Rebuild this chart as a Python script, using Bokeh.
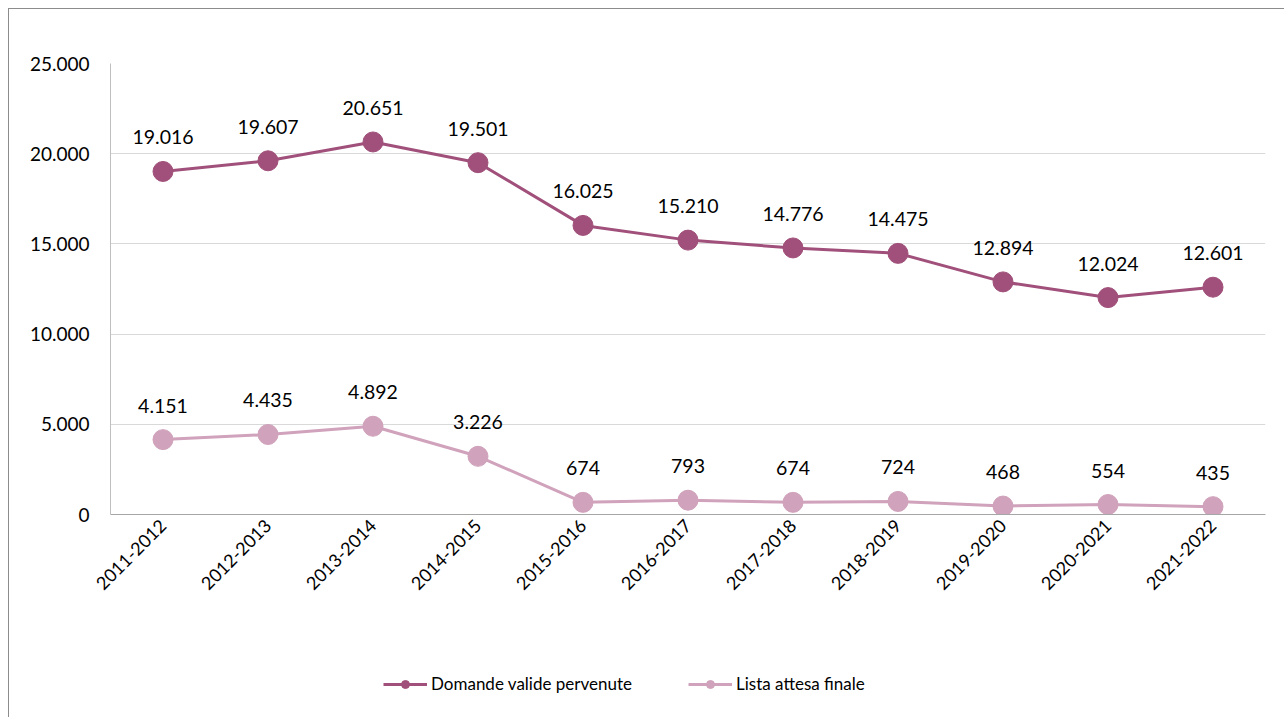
import math
from bokeh.plotting import figure
from bokeh.layouts import column
from bokeh.models import (ColumnDataSource, Range1d, FactorRange, LabelSet,
                          Legend, LegendItem)
from bokeh.core.properties import value
from bokeh.embed import file_html
from bokeh.resources import INLINE

years = ["2011-2012", "2012-2013", "2013-2014", "2014-2015", "2015-2016",
         "2016-2017", "2017-2018", "2018-2019", "2019-2020", "2020-2021",
         "2021-2022"]
domande = [19016, 19607, 20651, 19501, 16025, 15210, 14776, 14475, 12894, 12024, 12601]
lista = [4151, 4435, 4892, 3226, 674, 793, 674, 724, 468, 554, 435]
y_ticks = [0, 5000, 10000, 15000, 20000, 25000]
series_names = ["Domande valide pervenute", "Lista attesa finale"]

DARK = "#A0507A"
LIGHT = "#D0A2BB"
FONT = "Lato"
BORDER = "1px solid #8c8c8c"


def fmt(v):
    return f"{v:,}".replace(",", ".")


src_d = ColumnDataSource(dict(x=years, y=domande, lab=[fmt(v) for v in domande]))
src_l = ColumnDataSource(dict(x=years, y=lista, lab=[fmt(v) for v in lista]))

p = figure(width=1276, height=611, output_backend="svg", toolbar_location=None,
           x_range=FactorRange(factors=years, range_padding=0),
           y_range=Range1d(0, 25000),
           min_border_left=101, min_border_right=20, min_border_top=54,
           min_border_bottom=106)
p.styles = {"margin-left": "8px", "margin-top": "8px",
            "border-left": BORDER, "border-top": BORDER}
p.outline_line_color = None
p.background_fill_color = "white"
p.border_fill_color = "white"

p.xgrid.grid_line_color = None
p.ygrid.grid_line_color = "#d9d9d9"
p.ygrid.grid_line_width = 1
p.yaxis.ticker = y_ticks
p.yaxis.major_label_overrides = {t: fmt(t) for t in y_ticks}

for ax in (p.xaxis[0], p.yaxis[0]):
    ax.major_tick_line_color = None
    ax.minor_tick_line_color = None
    ax.major_tick_out = 0
    ax.major_tick_in = 0
    ax.major_label_text_font = FONT
    ax.major_label_text_color = "#000000"
p.yaxis.major_label_text_font_size = "19px"
p.xaxis.major_label_text_font_size = "18px"
p.yaxis.axis_line_color = "#bfbfbf"
p.xaxis.axis_line_color = "#a6a6a6"
p.yaxis.major_label_standoff = 21
p.xaxis.major_label_standoff = 8
p.xaxis.major_label_orientation = math.pi / 4

p.line("x", "y", source=src_d, line_color=DARK, line_width=3)
p.scatter("x", "y", source=src_d, size=20, fill_color=DARK, line_color=DARK)
p.line("x", "y", source=src_l, line_color=LIGHT, line_width=3)
p.scatter("x", "y", source=src_l, size=20, fill_color=LIGHT, line_color=LIGHT)

for src in (src_d, src_l):
    p.add_layout(LabelSet(x="x", y="y", text="lab", source=src, y_offset=34,
                          text_align="center", text_baseline="middle",
                          text_font=value(FONT), text_font_size=value("19.5px"),
                          text_color="#000000"))

# legend strip below the chart
q = figure(width=1276, height=98, output_backend="svg", toolbar_location=None,
           x_axis_type=None, y_axis_type=None, min_border=0,
           min_border_left=0, min_border_right=0, min_border_top=0,
           min_border_bottom=0,
           x_range=Range1d(0, 1), y_range=Range1d(0, 1))
q.styles = {"margin-left": "8px", "border-left": BORDER}
q.outline_line_color = None
q.xgrid.grid_line_color = None
q.ygrid.grid_line_color = None
off = dict(x=[-10, -9], y=[-10, -9])
ql1 = q.line("x", "y", source=ColumnDataSource(off), line_color=DARK, line_width=3)
qc1 = q.scatter("x", "y", source=ColumnDataSource(off), size=11,
                fill_color=DARK, line_color=DARK)
ql2 = q.line("x", "y", source=ColumnDataSource(off), line_color=LIGHT, line_width=3)
qc2 = q.scatter("x", "y", source=ColumnDataSource(off), size=11,
                fill_color=LIGHT, line_color=LIGHT)

legend = Legend(items=[LegendItem(label=series_names[0], renderers=[ql1, qc1]),
                       LegendItem(label=series_names[1], renderers=[ql2, qc2])],
                orientation="horizontal", location=(273, 23),
                glyph_width=44, glyph_height=20, label_standoff=4, spacing=56,
                label_text_font=FONT, label_text_font_size="17px",
                label_text_color="#000000", border_line_color=None,
                background_fill_alpha=0, margin=0, padding=4)
q.add_layout(legend, "center")

open("out.html", "w").write(file_html(column(p, q, spacing=0), INLINE))
